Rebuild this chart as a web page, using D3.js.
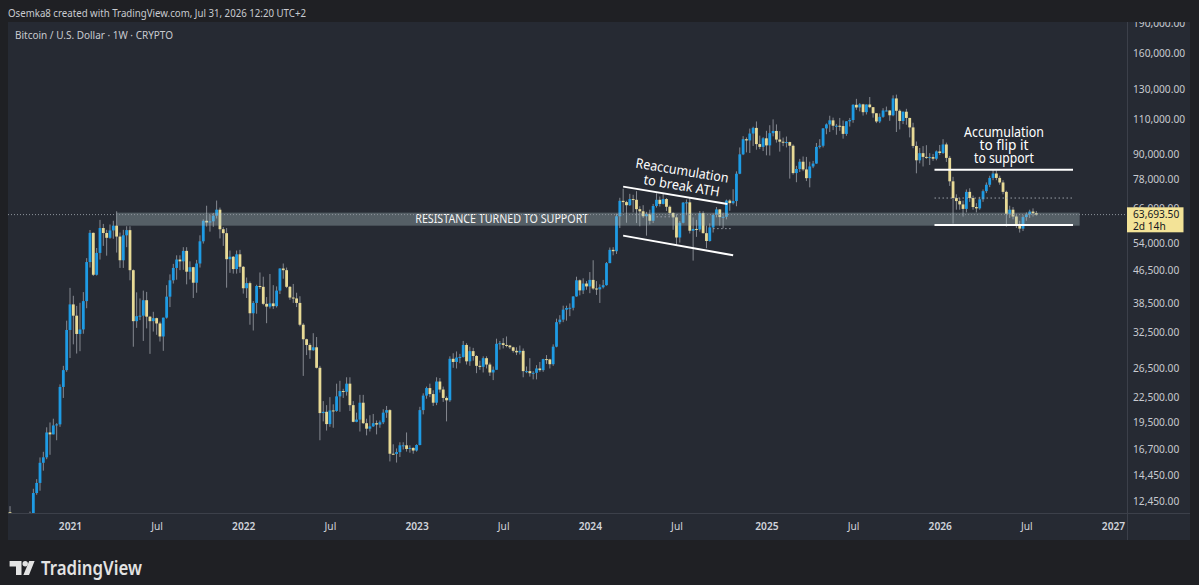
<!DOCTYPE html>
<html><head><meta charset="utf-8">
<script src="https://cdn.jsdelivr.net/npm/d3@7"></script>
<style>
html,body{margin:0;padding:0;background:#1f2024;}
svg{display:block;}
text{font-family:"Noto Sans","Open Sans",sans-serif;}
</style></head><body>
<svg id="c" width="1199" height="585"></svg>
<script>
// ---------------- DATA (prices in thousands of USD) ----------------
const firstWeek = "2020-08-24"; // Monday of first weekly candle, consecutive weeks follow
// rows: [open, high, low, close]
const ohlc2020 = [
[11.65,11.80,11.12,11.68],[11.68,12.09,9.88,10.28],[10.28,10.58,9.88,10.33],[10.33,11.18,10.20,11.08],
[11.08,11.10,10.14,10.77],[10.77,10.95,10.37,10.67],[10.67,11.48,10.53,11.39],[11.39,11.72,11.22,11.50],
[11.50,13.35,11.40,13.03],[13.03,14.10,12.90,13.80],[13.80,15.96,13.20,15.48],[15.48,16.48,14.80,15.97],
[15.97,18.95,15.80,18.40],[18.40,19.48,16.20,18.20],[18.20,19.90,18.20,19.15],[19.15,19.40,17.60,19.27],
[19.27,24.20,19.00,23.85],[23.85,26.90,22.40,26.25],[26.25,34.80,26.00,33.00]];
const ohlc2021 = [
[33.00,41.95,28.13,38.18],[38.18,40.10,30.40,35.80],[35.80,37.85,28.85,32.26],[32.26,38.53,29.24,33.10],
[33.10,40.95,32.30,38.90],[38.90,49.70,37.35,48.60],[48.60,58.35,47.10,57.40],[57.40,57.50,44.90,45.20],
[45.20,52.65,45.00,51.20],[51.20,61.80,49.30,59.00],[59.00,60.40,53.30,57.35],[57.35,58.40,50.40,55.80],
[55.80,60.20,55.50,58.20],[58.20,61.50,55.50,59.80],[59.80,64.90,51.30,56.20],[56.20,57.50,47.00,49.10],
[49.10,58.40,47.00,56.60],[56.60,59.60,52.90,58.30],[58.30,59.60,43.80,46.40],[46.40,46.60,30.00,34.70],
[34.70,40.90,33.40,35.70],[35.70,39.50,34.90,35.80],[35.80,41.30,31.00,39.10],[39.10,41.00,33.30,35.60],
[35.60,35.70,28.80,34.70],[34.70,36.60,32.70,35.30],[35.30,35.40,32.10,34.25],[34.25,34.60,30.90,31.80],
[31.80,35.40,29.30,35.40],[35.40,42.60,35.20,39.90],[39.90,45.30,37.60,43.80],[43.80,48.10,43.00,47.00],
[47.00,50.50,43.95,49.30],[49.30,50.50,46.40,48.80],[48.80,52.90,46.50,51.80],[51.80,52.90,42.80,46.00],
[46.00,48.80,44.00,47.20],[47.20,47.30,39.60,43.20],[43.20,49.20,40.80,48.20],[48.20,56.60,47.10,54.70],
[54.70,62.00,54.00,61.50],[61.50,67.00,59.50,60.90],[60.90,63.70,57.80,61.30],[61.30,64.30,59.40,63.30],
[63.30,69.00,62.30,65.50],[65.50,66.30,55.60,58.60],[58.60,59.30,53.30,57.30],[57.30,59.00,42.00,49.40],
[49.40,51.90,45.70,50.10],[50.10,50.30,45.50,46.70],[46.70,51.90,45.50,50.80],[50.80,52.10,45.70,47.30]];
const ohlc2022 = [
[47.30,47.50,40.60,41.86],[41.86,44.50,39.60,43.10],[43.10,43.50,34.00,36.30],[36.30,38.90,32.90,38.50],
[38.50,42.70,36.20,42.40],[42.40,45.80,41.70,42.20],[42.20,44.70,38.00,38.30],[38.30,39.80,34.30,37.70],
[37.70,45.40,37.30,38.40],[38.40,42.60,37.20,37.80],[37.80,42.30,37.50,41.30],[41.30,46.90,40.50,46.85],
[46.85,48.20,44.20,46.40],[46.40,47.10,41.90,42.20],[42.20,42.40,39.20,39.70],[39.70,42.90,38.50,39.50],
[39.50,40.80,37.60,38.50],[38.50,40.00,33.70,34.00],[34.00,34.30,25.40,31.30],[31.30,31.40,28.60,30.30],
[30.30,30.60,28.00,29.40],[29.40,32.40,29.30,29.90],[29.90,31.70,26.50,26.60],[26.60,26.90,17.60,20.55],
[20.55,22.00,19.60,20.70],[20.70,21.50,18.60,19.30],[19.30,22.50,19.00,20.86],[20.86,21.60,18.90,20.80],
[20.80,24.30,20.70,22.60],[22.60,24.70,20.70,23.30],[23.30,23.60,22.40,23.20],[23.20,25.20,22.70,24.30],
[24.30,25.20,20.80,21.50],[21.50,22.00,19.50,19.55],[19.55,20.60,19.50,19.80],[19.80,22.80,18.50,21.80],
[21.80,22.80,19.30,19.40],[19.40,19.90,18.10,18.80],[18.80,20.30,18.50,19.05],[19.05,20.45,19.00,19.40],
[19.40,19.70,18.20,19.25],[19.25,19.70,18.90,19.50],[19.50,21.00,19.30,20.60],[20.60,21.40,20.00,20.90],
[20.90,21.00,15.60,16.30],[16.30,17.20,16.20,16.28],[16.28,16.80,15.50,16.45],[16.45,17.40,16.00,17.10],
[17.10,17.40,16.70,17.10],[17.10,18.40,16.50,16.75],[16.75,17.10,16.40,16.85],[16.85,16.90,16.30,16.60]];
const ohlc2023 = [
[16.60,17.20,16.50,17.13],[17.13,21.30,17.10,20.90],[20.90,23.00,20.40,22.70],[22.70,23.90,22.30,23.70],
[23.70,24.30,22.50,22.90],[22.90,23.40,21.40,21.80],[21.80,25.20,21.50,24.60],[24.60,25.10,23.10,23.50],
[23.50,23.90,21.90,22.40],[22.40,22.60,19.60,22.10],[22.10,28.40,21.90,28.00],[28.00,28.90,26.60,27.50],
[27.50,29.20,26.50,28.20],[28.20,28.80,27.30,28.30],[28.30,31.00,28.20,30.30],[30.30,30.60,27.10,27.60],
[27.60,30.00,26.90,29.25],[29.25,29.80,27.70,28.45],[28.45,28.60,25.80,26.90],[26.90,27.70,26.30,26.75],
[26.75,28.40,25.90,28.10],[28.10,28.40,26.50,27.10],[27.10,27.40,25.40,25.90],[25.90,26.80,24.80,26.30],
[26.30,31.40,26.30,30.50],[30.50,31.00,29.50,30.60],[30.60,31.50,29.70,30.30],[30.30,31.80,29.90,30.20],
[30.20,30.30,29.60,29.90],[29.90,30.00,29.00,29.30],[29.30,29.90,28.60,29.05],[29.05,30.20,28.70,29.30],
[29.30,29.70,25.20,26.10],[26.10,26.80,25.80,26.10],[26.10,28.10,25.30,25.80],[25.80,26.10,24.90,25.85],
[25.85,27.00,24.90,26.50],[26.50,27.50,26.00,26.25],[26.25,28.00,26.00,27.95],[27.95,28.60,27.20,27.90],
[27.90,28.00,26.50,27.15],[27.15,30.40,26.90,30.00],[30.00,35.20,29.90,34.50],[34.50,35.90,34.10,35.00],
[35.00,37.90,34.50,37.05],[37.05,37.90,34.80,37.40],[37.40,38.40,35.70,37.45],[37.45,40.00,36.90,39.95],
[39.95,44.70,39.90,43.80],[43.80,44.00,40.20,41.35],[41.35,44.30,40.50,43.00],[43.00,43.60,41.50,42.30]];
const ohlc2024 = [
[42.30,45.90,40.70,43.90],[43.90,49.10,41.50,41.80],[41.80,43.60,40.30,41.60],[41.60,42.80,38.50,42.10],
[42.10,43.90,41.80,42.60],[42.60,48.60,42.50,48.30],[48.30,52.80,48.30,52.10],[52.10,52.90,50.50,51.70],
[51.70,64.00,50.90,63.10],[63.10,70.10,59.00,68.90],[68.90,73.80,64.50,68.40],[68.40,68.90,60.80,67.20],
[67.20,71.70,66.90,69.60],[69.60,71.30,64.50,69.30],[69.30,72.80,60.70,65.70],[65.70,66.80,59.60,64.90],
[64.90,67.20,62.50,63.10],[63.10,64.70,56.50,63.90],[63.90,65.50,60.20,61.50],[61.50,67.70,60.70,66.90],
[66.90,71.90,66.30,69.30],[69.30,70.60,66.70,67.70],[67.70,71.90,67.50,69.60],[69.60,70.00,65.00,66.60],
[66.60,67.10,63.40,64.30],[64.30,64.50,58.40,62.70],[62.70,63.80,53.50,55.90],[55.90,61.40,54.30,60.80],
[60.80,68.40,60.60,68.20],[68.20,69.40,63.50,68.30],[68.30,70.00,57.20,58.10],[58.10,62.70,49.00,58.70],
[58.70,61.80,56.10,58.50],[58.50,65.00,57.80,64.20],[64.20,64.90,57.20,57.30],[57.30,59.80,52.60,54.80],
[54.80,60.60,54.60,59.20],[59.20,64.10,57.50,63.60],[63.60,66.50,62.70,65.60],[65.60,65.70,59.80,62.80],
[62.80,64.40,58.90,62.90],[62.90,69.40,62.00,69.00],[69.00,69.50,65.10,68.00],[68.00,73.60,67.50,68.80],
[68.80,81.50,66.80,80.40],[80.40,93.40,80.20,89.80],[89.80,99.60,89.40,97.90],[97.90,98.90,90.80,97.20],
[97.20,104.00,90.50,101.10],[101.10,105.10,94.20,104.40],[104.40,108.30,92.20,95.20],[95.20,99.90,92.50,93.70],
[93.70,99.00,91.50,98.40]];
const ohlc2025 = [
[98.40,102.70,89.30,94.50],[94.50,106.00,89.20,101.30],[101.30,109.60,99.50,102.60],[102.60,106.50,96.00,97.70],
[97.70,102.50,91.20,96.50],[96.50,98.80,94.10,96.10],[96.10,99.40,93.40,96.30],[96.30,96.50,78.20,94.30],
[94.30,95.00,80.00,80.70],[80.70,84.10,76.60,82.60],[82.60,87.50,81.20,86.10],[86.10,88.70,81.60,82.40],
[82.40,88.50,77.10,78.40],[78.40,86.10,74.40,83.80],[83.80,86.50,83.00,85.20],[85.20,95.80,85.10,93.70],
[93.70,97.90,92.80,94.30],[94.30,104.30,93.40,104.10],[104.10,107.10,100.70,106.50],[106.50,111.90,102.00,109.00],
[109.00,110.70,103.10,105.70],[105.70,106.80,100.40,105.70],[105.70,110.50,102.70,105.50],[105.50,108.90,98.20,100.90],
[100.90,108.50,99.80,108.40],[108.40,110.50,105.20,109.20],[109.20,119.50,107.50,119.10],[119.10,123.20,115.70,117.30],
[117.30,120.20,114.70,119.40],[119.40,119.80,112.00,114.20],[114.20,119.30,112.70,119.30],[119.30,124.50,116.80,117.50],
[117.50,117.60,110.70,113.50],[113.50,113.60,107.30,108.30],[108.30,113.40,107.30,111.20],[111.20,116.80,110.60,115.30],
[115.30,117.90,114.70,115.30],[115.30,115.40,108.70,112.20],[112.20,125.70,111.60,123.50],[123.50,126.20,102.00,115.10],
[115.10,116.00,103.50,108.60],[108.60,114.60,106.70,114.50],[114.50,116.40,106.30,110.50],[110.50,110.60,98.90,104.70],
[104.70,107.50,93.00,94.20],[94.20,96.60,80.60,86.80],[86.80,93.10,85.30,90.40],[90.40,94.10,83.80,88.50],
[88.50,94.60,87.50,88.20],[88.20,90.40,84.50,88.40],[88.40,90.00,86.50,87.60],[87.60,91.80,86.80,91.30]];
const ohlc2026 = [
[91.30,94.70,89.50,90.50],[90.50,97.90,90.00,95.00],[95.00,96.00,86.00,88.00],[88.00,89.00,75.00,77.00],
[77.00,79.00,60.50,70.00],[70.00,71.50,65.50,68.80],[68.80,70.00,65.50,67.50],[67.50,69.00,63.00,65.80],
[65.80,73.50,64.50,72.50],[72.50,74.00,68.50,70.00],[70.00,71.00,65.50,66.50],[66.50,68.00,64.50,66.00],
[66.00,70.50,65.50,69.50],[69.50,73.50,68.50,72.80],[72.80,76.50,72.00,75.50],[75.50,79.50,74.50,78.50],
[78.50,82.50,77.50,80.50],[80.50,82.00,77.50,78.50],[78.50,79.50,75.50,76.50],[76.50,77.50,71.50,72.50],
[72.50,73.00,59.50,64.00],[64.00,67.00,62.50,65.50],[65.50,66.50,62.00,63.00],[63.00,64.00,59.00,60.00],
[60.00,61.50,57.50,58.80],[58.80,63.50,58.00,62.80],[62.80,64.50,61.50,63.80],[63.80,65.50,62.50,64.80],
[64.80,66.00,63.00,64.20],[64.20,65.00,63.30,63.69]];

const priceTicks = [190,160,130,110,90,78,66,54,46.5,38.5,32.5,26.5,22.5,19.5,16.7,14.45,12.45];
const priceTickLabels = ["190,000.00","160,000.00","130,000.00","110,000.00","90,000.00","78,000.00","66,000.00",
  "54,000.00","46,500.00","38,500.00","32,500.00","26,500.00","22,500.00","19,500.00","16,700.00","14,450.00","12,450.00"];
const timeTicks = ["2021-01-04","2021-07-05","2022-01-03","2022-07-04","2023-01-02","2023-07-03","2024-01-01",
  "2024-07-01","2025-01-06","2025-07-07","2026-01-05","2026-07-06","2027-01-04"];
const timeTickLabels = ["2021","Jul","2022","Jul","2023","Jul","2024","Jul","2025","Jul","2026","Jul","2027"];

const lastPrice = 63.6935;
const lastPriceLabel = ["63,693.50","2d 14h"];
// zone: [fromDate, toDate, topPrice, bottomPrice]
const zone = ["2021-04-12","2026-10-26",64.4,59.8];
const zoneLabel = ["RESISTANCE TURNED TO SUPPORT","2023-06-30",60.8];
// solid annotation lines: [date1, price1, date2, price2]
const annoLines = [
  ["2024-03-11",74.7,"2024-10-16",67.7],
  ["2024-03-11",56.5,"2024-10-28",50.5],
  ["2025-12-25",82.2,"2026-10-12",82.2],
  ["2025-12-25",60.0,"2026-10-12",60.0]];
const annoDotted = [
  ["2025-12-25",70.0,"2026-10-12",70.0],
  ["2024-05-20",62.9,"2024-06-24",62.9],
  ["2024-09-16",58.8,"2024-10-28",58.8]];
// text notes: [text, date, price, rotation, length]
const annoTexts = [
  ["Reaccumulation","2024-07-13",81.9,9.4,94],
  ["to break ATH","2024-07-12",75.1,9.4,77],
  ["Accumulation","2026-05-20",98.9,0,80],
  ["to flip it","2026-05-20",91.8,0,49],
  ["to support","2026-05-20",85.3,0,60]];
const headerText = "Osemka8 created with TradingView.com, Jul 31, 2026 12:20 UTC+2";
const titleText = "Bitcoin / U.S. Dollar · 1W · CRYPTO";

// ---------------- DRAWING ----------------
const W=1199,H=585;
const pane={l:8,t:22,r:1127,b:513};
const axisR=1190, axisB=540;
const UP="#1e9be4", DOWN="#e8da96", WICK="#8e939b";
const svg=d3.select("#c");
const P=s=>new Date(s+"T00:00:00Z");

const x=d3.scaleUtc().domain([P("2021-01-04"),P("2027-01-04")]).range([70,1113]);
const y=d3.scaleLog().domain([12.45,160]).range([501,53]);

const rows=[].concat(ohlc2020,ohlc2021,ohlc2022,ohlc2023,ohlc2024,ohlc2025,ohlc2026);
const start=P(firstWeek);
const candles=rows.map((r,i)=>({date:d3.utcDay.offset(start,7*i),o:r[0],h:r[1],l:r[2],c:r[3]}));
const ly=y(lastPrice);
const boxTop=ly-7.3;

svg.append("rect").attr("width",W).attr("height",H).attr("fill","#1f2024");
svg.append("rect").attr("x",pane.l).attr("y",pane.t).attr("width",axisR-pane.l).attr("height",axisB-pane.t).attr("fill","#262a33");
const defs=svg.append("defs");
defs.append("clipPath").attr("id","paneClip").append("rect").attr("x",pane.l).attr("y",pane.t).attr("width",pane.r-pane.l).attr("height",pane.b-pane.t);
defs.append("clipPath").attr("id","paxClip").append("rect").attr("x",pane.r).attr("y",pane.t).attr("width",axisR-pane.r).attr("height",pane.b-pane.t);

// header & title
svg.append("text").attr("x",8).attr("y",17).attr("fill","#c9cbd0").attr("font-size",10.5)
  .attr("textLength",298).attr("lengthAdjust","spacingAndGlyphs").text(headerText);
svg.append("text").attr("x",15).attr("y",38.8).attr("fill","#c9cbd0").attr("font-size",10.3)
  .attr("textLength",158).attr("lengthAdjust","spacingAndGlyphs").text(titleText);

const plot=svg.append("g").attr("clip-path","url(#paneClip)");
// candles
plot.selectAll("line.wick").data(candles).join("line").attr("class","wick")
  .attr("x1",d=>x(d.date)).attr("x2",d=>x(d.date)).attr("y1",d=>y(d.h)).attr("y2",d=>y(d.l))
  .attr("stroke",WICK).attr("stroke-width",0.9);
plot.selectAll("rect.body").data(candles).join("rect").attr("class","body")
  .attr("x",d=>x(d.date)-1.4).attr("width",2.8)
  .attr("y",d=>y(Math.max(d.o,d.c)))
  .attr("height",d=>Math.max(1,Math.abs(y(d.o)-y(d.c))))
  .attr("fill",d=>d.c>=d.o?UP:DOWN);

// zone
plot.append("rect").attr("x",x(P(zone[0]))).attr("width",x(P(zone[1]))-x(P(zone[0])))
  .attr("y",y(zone[2])).attr("height",y(zone[3])-y(zone[2])).attr("fill","#a9bec3").attr("opacity",0.36);
plot.append("text").attr("x",x(P(zoneLabel[1]))).attr("y",y(zoneLabel[2])).attr("text-anchor","middle")
  .attr("fill","#f4f4f4").attr("font-size",12).attr("textLength",173).attr("lengthAdjust","spacingAndGlyphs").text(zoneLabel[0]);

// last price dotted line
plot.append("line").attr("x1",pane.l).attr("x2",pane.r).attr("y1",ly).attr("y2",ly)
  .attr("stroke","#8d929b").attr("stroke-width",1).attr("stroke-dasharray","1,2");

// annotations
plot.selectAll("line.anno").data(annoLines).join("line").attr("class","anno")
  .attr("x1",d=>x(P(d[0]))).attr("y1",d=>y(d[1])).attr("x2",d=>x(P(d[2]))).attr("y2",d=>y(d[3]))
  .attr("stroke","#ffffff").attr("stroke-width",2);
plot.selectAll("line.dot").data(annoDotted).join("line").attr("class","dot")
  .attr("x1",d=>x(P(d[0]))).attr("y1",d=>y(d[1])).attr("x2",d=>x(P(d[2]))).attr("y2",d=>y(d[3]))
  .attr("stroke","#9a9fa8").attr("stroke-width",1).attr("stroke-dasharray","1.5,2.5");
plot.selectAll("text.note").data(annoTexts).join("text").attr("class","note")
  .attr("transform",d=>`translate(${x(P(d[1]))},${y(d[2])}) rotate(${d[3]})`)
  .attr("text-anchor","middle").attr("dy",d=>d[3]?"0.35em":"0")
  .attr("fill","#ffffff").attr("font-size",13.5)
  .attr("textLength",d=>d[4]).attr("lengthAdjust","spacingAndGlyphs").text(d=>d[0]);

// separators
svg.append("line").attr("x1",pane.r+0.5).attr("x2",pane.r+0.5).attr("y1",pane.t).attr("y2",axisB).attr("stroke","#3c404a");
svg.append("line").attr("x1",pane.l).attr("x2",axisR).attr("y1",pane.b+0.5).attr("y2",pane.b+0.5).attr("stroke","#3c404a");

// time axis
const xa=svg.append("g").attr("transform",`translate(0,${pane.b})`)
  .call(d3.axisBottom(x).tickValues(timeTicks.map(P)).tickFormat((d,i)=>timeTickLabels[i]).tickSize(0).tickPadding(10));
xa.select(".domain").remove();
xa.selectAll("text").attr("fill","#d1d4dc").attr("font-size",10.2)
  .attr("font-family","'Noto Sans',sans-serif")
  .attr("font-weight",(d,i)=>timeTickLabels[i]==="Jul"?400:600);

// price axis
const ya=svg.append("g").attr("clip-path","url(#paxClip)").append("g").attr("transform",`translate(${pane.r},0)`)
  .call(d3.axisRight(y).tickValues(priceTicks).tickFormat((d,i)=>priceTickLabels[i]).tickSize(0).tickPadding(6));
ya.select(".domain").remove();
ya.selectAll("text").attr("fill","#c9cbd1").attr("font-size",10.2).attr("font-family","'Noto Sans',sans-serif");
// a tick label behind the last-price box shows only its part above the box (as in the reference)
ya.selectAll(".tick").filter(d=>Math.abs(y(d)-ly)<14).each(function(d){
  const id="hidClip"+Math.round(d);
  defs.append("clipPath").attr("id",id).append("rect")
    .attr("x",0).attr("y",pane.t-y(d)).attr("width",axisR-pane.r).attr("height",boxTop-pane.t);
  d3.select(this).select("text").attr("clip-path",`url(#${id})`);
});

// last price label
svg.append("rect").attr("x",pane.r).attr("y",boxTop).attr("width",56.5).attr("height",25).attr("fill","#f3e397");
svg.append("text").attr("x",pane.r+6).attr("y",ly+3.6).attr("fill","#131722").attr("font-size",10.2).text(lastPriceLabel[0]);
svg.append("text").attr("x",pane.r+6).attr("y",ly+15.4).attr("fill","#131722").attr("font-size",10.2).text(lastPriceLabel[1]);

// footer logo
const logo=svg.append("g").attr("fill","#e3e3e3");
logo.append("path").attr("d","M9.6,561 H21.5 V575 H16 V566.5 H9.6 Z");
logo.append("circle").attr("cx",25.2).attr("cy",563.8).attr("r",2.7);
logo.append("path").attr("d","M29.2,561 H34.6 L29,575 H23.4 Z");
svg.append("text").attr("x",41).attr("y",574.6).attr("fill","#e3e3e3").attr("font-size",19).attr("font-weight",600)
  .attr("textLength",101).attr("lengthAdjust","spacingAndGlyphs").text("TradingView");
</script>
</body></html>
